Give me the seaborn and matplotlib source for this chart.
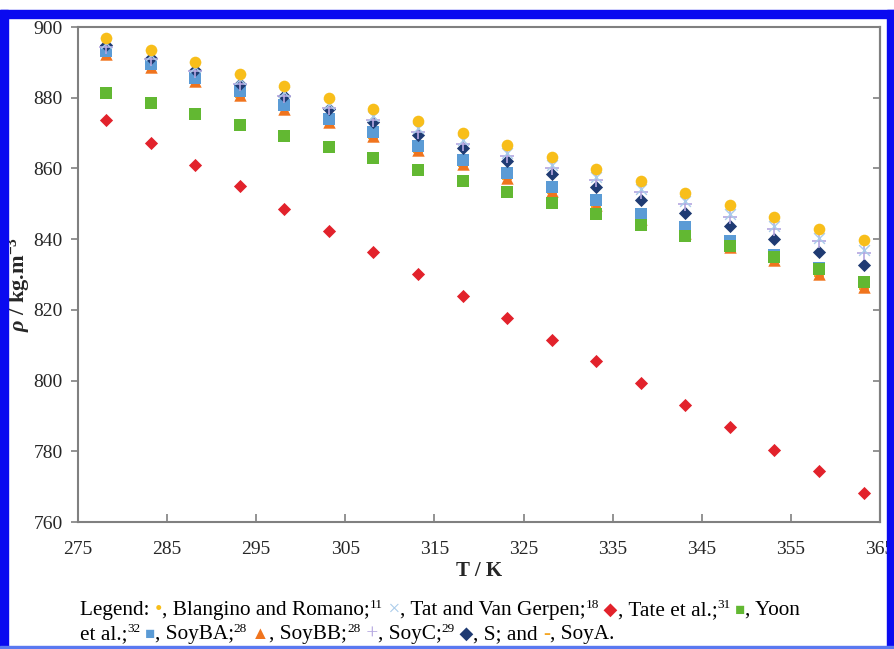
import numpy as np
import pandas as pd
import matplotlib
matplotlib.use("Agg")
import matplotlib.pyplot as plt
from matplotlib.patches import Rectangle
import seaborn as sns

# Data
temps = [278.15, 283.15, 288.15, 293.15, 298.15, 303.15, 308.15, 313.15, 318.15,
         323.15, 328.15, 333.15, 338.15, 343.15, 348.15, 353.15, 358.15, 363.15]
blangino = [897.0, 893.6, 890.2, 886.8, 883.4, 880.0, 876.7, 873.3, 869.9,
            866.5, 863.2, 859.8, 856.4, 853.1, 849.7, 846.4, 843.0, 839.7]
tat = [895.5, 892.1, 888.6, 885.2, 881.7, 878.3, 874.8, 871.4, 867.9,
       864.5, 861.0, 857.6, 854.1, 850.7, 847.2, 843.8, 840.3, 836.9]
tate = [873.6, 867.3, 861.1, 854.9, 848.6, 842.4, 836.3, 830.2, 824.0,
        817.8, 811.6, 805.4, 799.2, 793.0, 786.8, 780.5, 774.3, 768.2]
yoon = [881.4, 878.4, 875.3, 872.3, 869.2, 866.0, 862.9, 859.6, 856.4,
        853.3, 850.2, 847.2, 844.1, 841.0, 838.0, 834.9, 831.6, 827.9]
soy_ba = [893.3, 889.5, 885.6, 881.8, 877.9, 874.1, 870.2, 866.4, 862.5,
          858.7, 854.8, 851.0, 847.1, 843.3, 839.4, 835.6, 831.7, 827.9]
soy_bb = [892.5, 888.6, 884.7, 880.8, 876.9, 873.0, 869.1, 865.2, 861.3,
          857.4, 853.5, 849.6, 845.7, 841.8, 837.9, 834.0, 830.1, 826.4]
soy_c = [894.3, 890.9, 887.5, 884.0, 880.6, 877.2, 873.8, 870.4, 866.9,
         863.5, 860.1, 856.7, 853.3, 849.8, 846.4, 843.0, 839.6, 836.2]
s_oil = [895.0, 891.3, 887.7, 884.0, 880.4, 876.7, 873.0, 869.4, 865.7,
         862.1, 858.4, 854.7, 851.1, 847.4, 843.8, 840.1, 836.4, 832.8]
soy_a = [892.0, 888.1, 884.2, 880.3, 876.4, 872.5, 868.6, 864.7, 860.8,
         856.9, 853.0, 849.1, 845.2, 841.3, 837.4, 833.5, 829.6, 826.0]

# name, values, marker, color, size, line width
series = [
    ("SoyA", soy_a, "_", "#F5A623", 60, 1.5),
    ("SoyBB", soy_bb, "^", "#F0741E", 80, 0),
    ("SoyBA", soy_ba, "s", "#5B9BD5", 70, 0),
    ("Yoon", yoon, "s", "#62B832", 80, 0),
    ("S", s_oil, "D", "#1F3B73", 45, 0),
    ("SoyC", soy_c, "+", "#B4A7E0", 110, 1.2),
    ("Tat", tat, "x", "#A9CBEA", 60, 1.0),
    ("Tate", tate, "D", "#E2222B", 45, 0),
    ("Blangino", blangino, "o", "#F8BE1A", 70, 0),
]

W, H = 895, 649
sns.set_style("ticks")
plt.rcParams["font.family"] = ["Liberation Serif", "DejaVu Sans"]
plt.rcParams["mathtext.fontset"] = "custom"
plt.rcParams["mathtext.rm"] = "Liberation Serif:bold"
plt.rcParams["mathtext.it"] = "Liberation Serif:italic:bold"

fig = plt.figure(figsize=(W / 100, H / 100), dpi=100)
ax = fig.add_axes([78 / W, 1 - 522 / H, (880 - 78) / W, (522 - 27) / H])

for name, vals, mk, col, sz, lw in series:
    df = pd.DataFrame({"T": temps, "rho": vals})
    if lw == 0:
        sns.scatterplot(data=df, x="T", y="rho", marker=mk, color=col, s=sz,
                        linewidth=0, ax=ax, zorder=3)
    else:
        sns.scatterplot(data=df, x="T", y="rho", marker=mk, color=col, s=sz,
                        linewidth=lw, ax=ax, zorder=3)

ax.set_xlim(275, 365)
ax.set_ylim(760, 900)
ax.set_xticks(np.arange(275, 366, 10))
ax.set_yticks(np.arange(760, 901, 20))
ax.tick_params(axis="x", direction="in", length=6, width=1.2, color="#808080",
               labelsize=14, pad=14)
ax.tick_params(axis="y", direction="out", length=5, width=1.2, color="#808080",
               labelsize=14, pad=6)
for sp in ax.spines.values():
    sp.set_color("#808080")
    sp.set_linewidth(1.5)

# right side ticks point inward, no labels
sec = ax.secondary_yaxis("right")
sec.set_yticks(np.arange(760, 901, 20))
sec.tick_params(direction="in", length=5, width=1.2, color="#808080",
                labelright=False)
sec.spines["right"].set_color("#808080")
sec.spines["right"].set_linewidth(1.5)

ax.set_xlabel("T / K", fontsize=15, fontweight="bold", labelpad=2)
ax.set_ylabel(r"$\it{\rho}$ / kg.m$^{\mathregular{-3}}$", fontsize=16,
              fontweight="bold")
ax.yaxis.set_label_coords(-0.056, 0.479)

# caption with inline coloured symbols
renderer = fig.canvas.get_renderer()
fam = ["Liberation Serif", "DejaVu Sans"]


def write_line(chunks, x0, y0):
    x = x0
    for txt, col, fs, dy in chunks:
        t = fig.text(x / W, 1 - (y0 - dy) / H, txt, color=col, fontsize=fs,
                     family=fam, va="baseline", ha="left")
        bb = t.get_window_extent(renderer)
        x = bb.x1


k = "black"
fs_main, fs_sup = 15.3, 9.5
line1 = [("Legend: ", k, fs_main, 0), ("\u2022", "#F8BE1A", fs_main, 0),
         (", Blangino and Romano;", k, fs_main, 0), ("11", k, fs_sup, 7),
         (" \u00d7", "#A9CBEA", fs_main, 0), (", Tat and Van Gerpen;", k, fs_main, 0),
         ("18", k, fs_sup, 7), (" \u25c6", "#E2222B", 13, 0),
         (", Tate et al.;", k, fs_main, 0), ("31", k, fs_sup, 7),
         (" \u25a0", "#62B832", 12, 0), (", Yoon", k, fs_main, 0)]
line2 = [("et al.;", k, fs_main, 0), ("32", k, fs_sup, 7),
         (" \u25a0", "#5B9BD5", 12, 0), (", SoyBA;", k, fs_main, 0),
         ("28", k, fs_sup, 7), (" \u25b2", "#F0741E", 13, 0),
         (", SoyBB;", k, fs_main, 0), ("28", k, fs_sup, 7),
         (" +", "#B4A7E0", fs_main, 0), (", SoyC;", k, fs_main, 0),
         ("29", k, fs_sup, 7), (" \u25c6", "#1F3B73", 13, 0),
         (", S; and ", k, fs_main, 0), ("-", "#F5A623", fs_main, 0),
         (", SoyA.", k, fs_main, 0)]
write_line(line1, 80, 615)
write_line(line2, 80, 639)

# blue frame around the figure
blue = "#0A0AF0"
fig.patches.append(Rectangle((0, 0), 8 / W, 1 - 10 / H, transform=fig.transFigure,
                             color=blue, zorder=0))
fig.patches.append(Rectangle((1 - 8 / W, 0), 8 / W, 1 - 10 / H,
                             transform=fig.transFigure, color=blue, zorder=0))
fig.patches.append(Rectangle((0, 1 - 18 / H), 1, 8 / H, transform=fig.transFigure,
                             color=blue, zorder=0))
fig.patches.append(Rectangle((0, 0), 1, 3 / H, transform=fig.transFigure,
                             color="#5A78F0", zorder=0))

fig.savefig("out.png", dpi=100)
